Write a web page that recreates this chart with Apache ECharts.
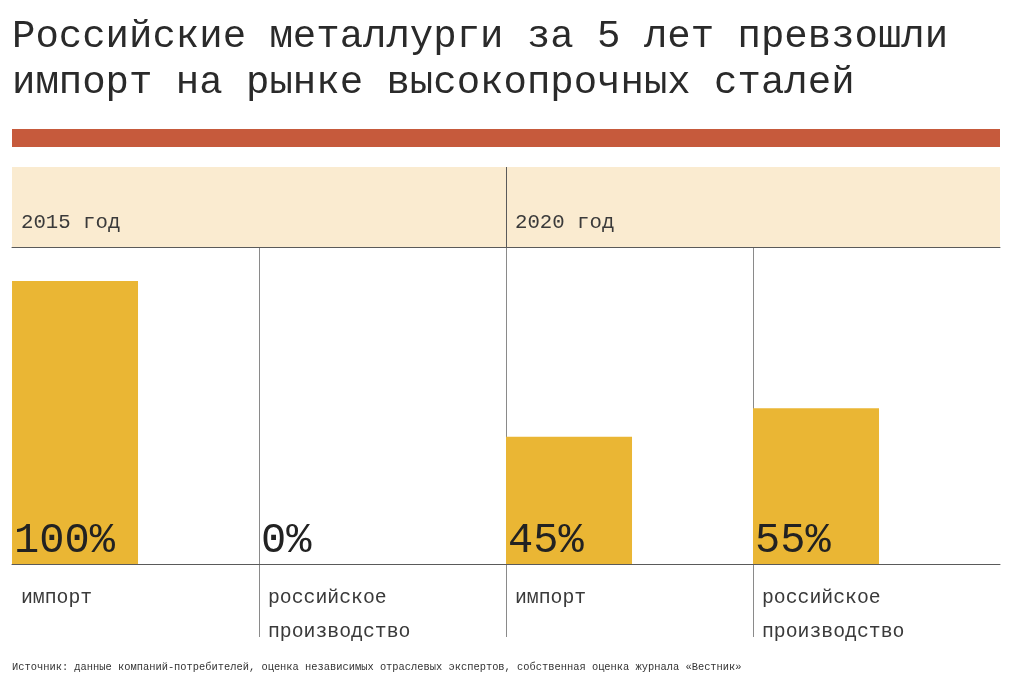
<!DOCTYPE html>
<html>
<head>
<meta charset="utf-8">
<script src="https://cdn.jsdelivr.net/npm/echarts@6/dist/echarts.min.js"></script>
<style>html,body{margin:0;padding:0;background:#fff;}#c{width:1024px;height:685px;}</style>
</head>
<body>
<div id="c"></div>
<script>
// ---- data ----
const titleText = 'Российские металлурги за 5 лет превзошли\nимпорт на рынке высокопрочных сталей';
const sourceText = 'Источник: данные компаний-потребителей, оценка независимых отраслевых экспертов, собственная оценка журнала «Вестник»';
const years = ['2015 год', '', '2020 год', '', ''];
const categories = ['импорт', 'российское\nпроизводство', 'импорт', 'российское\nпроизводство'];
const shares = [100, 0, 45, 55];

const MONO = '"Liberation Mono", "DejaVu Sans Mono", monospace';
const LINE = '#5a5a5a';

const chart = echarts.init(document.getElementById('c'), null, {renderer: 'canvas'});
const option = {
  backgroundColor: '#ffffff',
  animation: false,
  title: [
    {text: titleText, left: 12, top: 14, padding: 0,
     textStyle: {fontFamily: MONO, fontSize: 39, lineHeight: 46, fontWeight: 'normal', color: '#2a2a2a'}},
    {text: sourceText, left: 12, top: 662, padding: 0,
     textStyle: {fontFamily: MONO, fontSize: 10.4, fontWeight: 'normal', color: '#333'}}
  ],
  graphic: [
    {type: 'rect', shape: {x: 12, y: 129, width: 988, height: 18}, style: {fill: '#C65A3C'}, silent: true}
  ],
  grid: [
    {left: 12, right: 24, top: 247, bottom: 121},
    {left: 12, right: 24, top: 247, bottom: 48},
    {left: 12, right: 24, top: 167, bottom: 438, show: true, backgroundColor: '#FAEBD0', borderWidth: 0}
  ],
  xAxis: [
    {gridIndex: 0, type: 'category', data: categories, boundaryGap: true,
     axisLine: {show: true, lineStyle: {color: LINE, width: 1}}, axisTick: {show: false},
     axisLabel: {show: false}, splitLine: {show: false}},
    {gridIndex: 1, type: 'category', data: categories.concat(['']), boundaryGap: false, position: 'top',
     axisLine: {show: false}, axisTick: {show: false},
     axisLabel: {show: true, inside: true, margin: 334, align: 'left', verticalAlign: 'top',
       padding: [0, 0, 0, 9], fontFamily: MONO, fontSize: 19.8, lineHeight: 34, color: '#3a3a3a', interval: 0},
     splitLine: {show: true, interval: function (i) { return i > 0 && i < 4; }, lineStyle: {color: '#8a8a8a', width: 1}}},
    {gridIndex: 2, type: 'category', data: years, boundaryGap: false, position: 'bottom',
     axisLine: {show: true, lineStyle: {color: LINE, width: 1}}, axisTick: {show: false},
     axisLabel: {show: true, inside: true, margin: 12, align: 'left', verticalAlign: 'bottom',
       padding: [0, 0, 0, 9], fontFamily: MONO, fontSize: 20.7, lineHeight: 24, color: '#3a3a3a', interval: 0},
     splitLine: {show: true, interval: function (i) { return i === 2; }, lineStyle: {color: LINE, width: 1}}}
  ],
  yAxis: [
    {gridIndex: 0, type: 'value', min: 0, max: 112, show: false, splitLine: {show: false}},
    {gridIndex: 1, type: 'value', min: 0, max: 1, show: false, splitLine: {show: false}},
    {gridIndex: 2, type: 'value', min: 0, max: 1, show: false, splitLine: {show: false}}
  ],
  series: [
    {type: 'bar', xAxisIndex: 0, yAxisIndex: 0, data: shares, barWidth: 126, barGap: '-4%',
     itemStyle: {color: '#EAB634'},
     label: {show: true, position: 'insideBottomLeft', distance: 0, offset: [2, -2], formatter: '{c}%',
       fontFamily: MONO, fontSize: 42, color: '#222'}},
    {type: 'bar', xAxisIndex: 0, yAxisIndex: 0, data: shares.map(() => 0), barWidth: 126,
     itemStyle: {color: 'rgba(0,0,0,0)'}, silent: true}
  ]
};
chart.setOption(option);
</script>
</body>
</html>
